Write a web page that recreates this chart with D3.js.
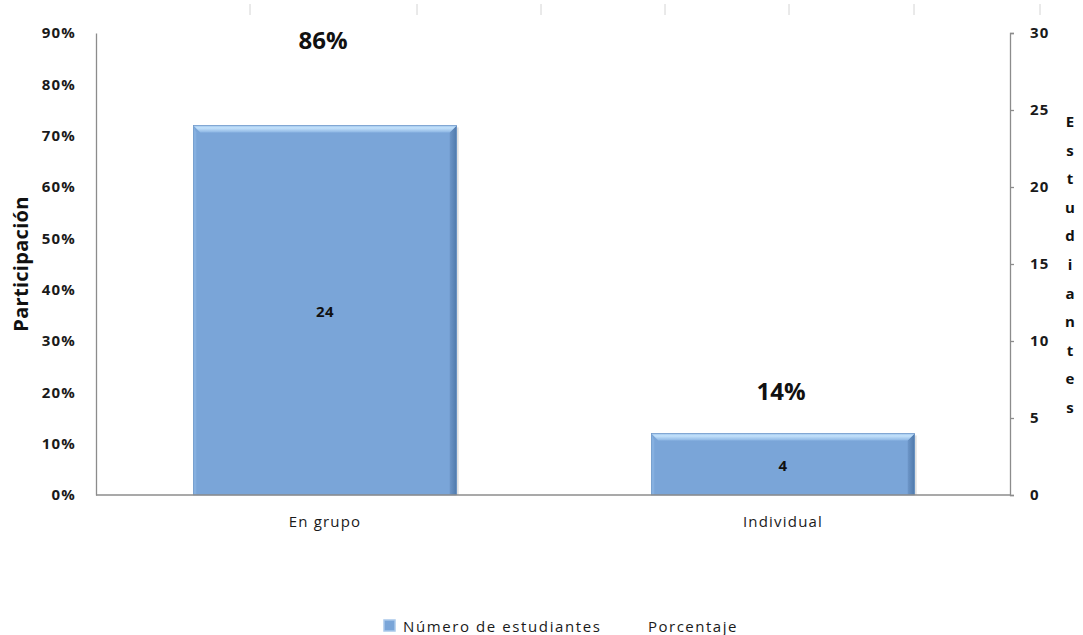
<!DOCTYPE html>
<html><head><meta charset="utf-8">
<script src="https://d3js.org/d3.v7.min.js"></script>
<style>body{margin:0;background:#fff}svg{display:block}</style>
</head><body>
<svg id="c" width="1083" height="635"></svg>
<script>
// ---- data ----
const categories = ["En grupo", "Individual"];
const students = [24, 4];
const percentages = [86, 14];
const pctTicks = [0, 10, 20, 30, 40, 50, 60, 70, 80, 90];
const studentTicks = [0, 5, 10, 15, 20, 25, 30];
const seriesNames = ["Número de estudiantes", "Porcentaje"];
const leftTitle = "Participación";
const rightTitle = "Estudiantes";

// ---- layout ----
const plot = {left: 96, right: 1012, top: 33, bottom: 495};
const FONT = "'Open Sans', 'Noto Sans', sans-serif";
const svg = d3.select("#c");

const x = d3.scaleBand().domain(categories).range([plot.left, plot.right])
  .paddingInner(0.425).paddingOuter(0.2125);
const yPct = d3.scaleLinear().domain([0, 90]).range([plot.bottom, plot.top]);
const yN = d3.scaleLinear().domain([0, 30]).range([plot.bottom, plot.top]);

// faint decoration strokes along the top edge
const topMarks = [250, 417, 541, 665, 789, 914, 1040];
svg.append("g").selectAll("line").data(topMarks).join("line")
  .attr("x1", d => d).attr("x2", d => d).attr("y1", 4).attr("y2", 15)
  .attr("stroke", "#d4d4d4").attr("stroke-width", 1);

// gradients
const defs = svg.append("defs");
const gTop = defs.append("linearGradient").attr("id", "gTop").attr("x1", 0).attr("y1", 0).attr("x2", 0).attr("y2", 1);
gTop.append("stop").attr("offset", "0%").attr("stop-color", "#9cc3ec");
gTop.append("stop").attr("offset", "35%").attr("stop-color", "#c4e2fb");
gTop.append("stop").attr("offset", "100%").attr("stop-color", "#8db6e4");
const gRight = defs.append("linearGradient").attr("id", "gRight").attr("x1", 0).attr("y1", 0).attr("x2", 1).attr("y2", 0);
gRight.append("stop").attr("offset", "0%").attr("stop-color", "#6d96c8");
gRight.append("stop").attr("offset", "100%").attr("stop-color", "#4f79ab");

// bars
const bev = 7;
const bars = svg.append("g").selectAll("g").data(categories).join("g");
bars.each(function(c, i) {
  const g = d3.select(this);
  const x0 = x(c), x1 = x(c) + x.bandwidth();
  const y0 = yN(students[i]), y1 = yN(0);
  g.append("rect").attr("x", x0 + 2).attr("y", y0 + 2).attr("width", x.bandwidth()).attr("height", y1 - y0 - 2)
    .attr("fill", "#000").attr("opacity", 0.12);
  g.append("rect").attr("x", x0).attr("y", y0).attr("width", x.bandwidth()).attr("height", y1 - y0)
    .attr("fill", "#7aa5d8");
  g.append("polygon").attr("points", [[x0, y0], [x0 + 3, y0 + bev], [x0 + 3, y1], [x0, y1]].join(" "))
    .attr("fill", "#86b0e0");
  g.append("polygon").attr("points", [[x1, y0], [x1 - bev, y0 + bev], [x1 - bev, y1], [x1, y1]].join(" "))
    .attr("fill", "url(#gRight)");
  g.append("polygon").attr("points", [[x0, y0], [x1, y0], [x1 - bev, y0 + bev], [x0 + bev, y0 + bev]].join(" "))
    .attr("fill", "url(#gTop)");
  g.append("rect").attr("x", x0).attr("y", y0).attr("width", x.bandwidth()).attr("height", y1 - y0)
    .attr("fill", "none").attr("stroke", "#6a93c4").attr("stroke-width", 0.6);
  g.append("text").attr("x", x0 + x.bandwidth() / 2).attr("y", (y0 + y1) / 2 + 1)
    .attr("text-anchor", "middle").attr("dominant-baseline", "central")
    .attr("font-family", FONT).attr("font-weight", 700).attr("font-size", 15).attr("letter-spacing", 0.5).attr("fill", "#111")
    .text(students[i]);
});

// axes
const axisColor = "#8c8c8c";
const leftAxis = svg.append("g").attr("transform", `translate(${plot.left},0)`)
  .call(d3.axisLeft(yPct).tickValues(pctTicks).tickSize(0).tickPadding(20).tickFormat(d => d + "%"));
const rightAxis = svg.append("g").attr("transform", `translate(${plot.right - 2},0)`)
  .call(d3.axisRight(yN).tickValues(studentTicks).tickSizeInner(4).tickSizeOuter(4).tickPadding(16));
[leftAxis, rightAxis].forEach(a => {
  a.select(".domain").attr("stroke", axisColor).attr("stroke-width", 1.3);
  a.selectAll(".tick line").attr("stroke", axisColor).attr("stroke-width", 1.3);
  a.selectAll("text").attr("font-family", FONT).attr("font-weight", 700).attr("font-size", 15)
    .attr("letter-spacing", 1.2).attr("fill", "#1a1a1a");
});
const bottomAxis = svg.append("g").attr("transform", `translate(0,${plot.bottom})`)
  .call(d3.axisBottom(x.copy().range([plot.left, plot.right])).tickSize(0).tickPadding(21));
bottomAxis.select(".domain").attr("d", `M${plot.left},0H${plot.right - 2}`)
  .attr("stroke", axisColor).attr("stroke-width", 1.3);
bottomAxis.selectAll("text").attr("font-family", FONT).attr("font-weight", 400).attr("font-size", 15)
  .attr("letter-spacing", 1.2).attr("fill", "#1a1a1a");

// percentage labels
svg.append("g").selectAll("text").data(categories).join("text")
  .attr("x", c => x(c) + x.bandwidth() / 2 - 2)
  .attr("y", (c, i) => Math.min(yPct(percentages[i]) - 14, yN(students[i]) - 43))
  .attr("text-anchor", "middle").attr("dominant-baseline", "central")
  .attr("font-family", FONT).attr("font-weight", 700).attr("font-size", 24).attr("fill", "#111")
  .text((c, i) => percentages[i] + "%");

// left title
svg.append("text")
  .attr("transform", `translate(20,${(plot.top + plot.bottom) / 2}) rotate(-90)`)
  .attr("text-anchor", "middle").attr("dominant-baseline", "central")
  .attr("font-family", FONT).attr("font-weight", 700).attr("font-size", 20).attr("letter-spacing", 0.3).attr("fill", "#111")
  .text(leftTitle);

// right title: stacked letters
const letters = Array.from(rightTitle);
const step = 28.6;
const midY = (plot.top + plot.bottom) / 2;
svg.append("g").selectAll("text").data(letters).join("text")
  .attr("x", 1070).attr("y", (d, i) => midY + (i - (letters.length - 1) / 2) * step)
  .attr("text-anchor", "middle").attr("dominant-baseline", "central")
  .attr("font-family", FONT).attr("font-weight", 700).attr("font-size", 15).attr("fill", "#111")
  .text(d => d);

// legend
const lg = svg.append("g");
lg.append("rect").attr("x", 384).attr("y", 620).attr("width", 11).attr("height", 11)
  .attr("fill", "#7aa5d8").attr("stroke", "#a9c8ea").attr("stroke-width", 1.5);
lg.append("text").attr("x", 403).attr("y", 626).attr("dominant-baseline", "central")
  .attr("font-family", FONT).attr("font-size", 15).attr("fill", "#1a1a1a").attr("letter-spacing", 1.6)
  .text(seriesNames[0]);
lg.append("text").attr("x", 648).attr("y", 626).attr("dominant-baseline", "central")
  .attr("font-family", FONT).attr("font-size", 15).attr("fill", "#1a1a1a").attr("letter-spacing", 1.5)
  .text(seriesNames[1]);
</script>
</body></html>
